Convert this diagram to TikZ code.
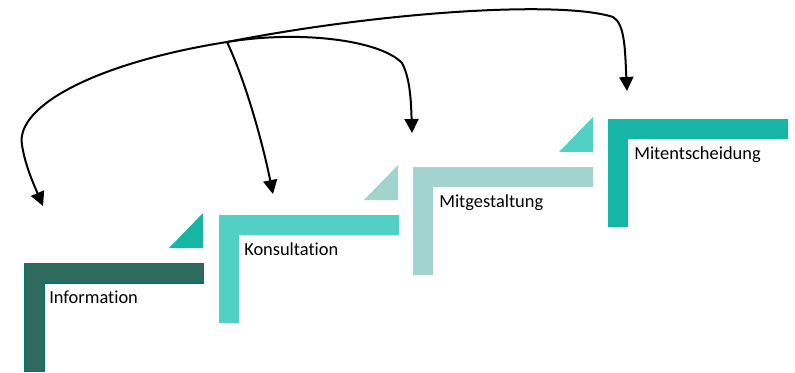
\documentclass[tikz,border=0pt]{standalone}
\usepackage{fontspec}
\setmainfont{Carlito}[Ligatures=NoCommon]
\usetikzlibrary{arrows.meta}
\definecolor{cone}{HTML}{2E6B5E}
\definecolor{coneb}{HTML}{00776A}
\definecolor{ctwo}{HTML}{52D0C3}
\definecolor{cthree}{HTML}{A3D3CE}
\definecolor{cfour}{HTML}{17B5A5}
\tikzset{
  lbl/.style={anchor=base west,inner sep=0pt,font=\fontsize{13.8pt}{15pt}\selectfont},
  conn/.style={line width=1.5pt,-{Triangle[length=10.5pt,width=10.5pt]}},
}
\newcommand{\stairL}[3]{%
  \fill[#3] (#1,#2) -- ++(180,0) -- ++(0,20) -- ++(-160,0) -- ++(0,88) -- ++(-20,0) -- cycle;}
\newcommand{\stairT}[3]{%
  \fill[#3] (#1,#2) -- ++(34,-35) -- ++(0,35) -- cycle;}
\begin{document}
\begin{tikzpicture}[x=0.75pt,y=-0.75pt]
\useasboundingbox (0,0) rectangle (795,372);
% steps
\filldraw[fill=cone,draw=coneb,line width=0.8pt] (24.5,263.5) -- ++(179,0) -- ++(0,19.5) -- ++(-159.5,0) -- ++(0,88.5) -- ++(-19.5,0) -- cycle;
\stairL{219}{215}{ctwo}
\stairL{413}{167}{cthree}
\stairL{608}{119}{cfour}
% triangles
\stairT{169}{248}{cfour}
\stairT{364}{200}{cthree}
\stairT{559}{152}{ctwo}
% labels
\node[lbl] (info) at (49,303) {Information};
\node[lbl] (kons) at (244,255) {Konsultation};
\node[lbl] (mitg) at (439,207) {Mitgestaltung};
\node[lbl] (mite) at (634,159) {Mitentscheidung};
% connectors
\coordinate (src) at (227,42);
\coordinate (t1) at (43,206);
\coordinate (t2) at (273,194);
\coordinate (t3) at (412,133);
\coordinate (t4) at (627,91);
\draw[conn] (src) .. controls (100,62) and (15,105) .. (22,145) .. controls (25,165) and (34,185) .. (t1);
\draw[conn] (src) .. controls (245,80) and (262,140) .. (t2);
\draw[conn] (src) .. controls (300,30) and (380,40) .. (402,63) .. controls (410,78) and (411,100) .. (t3);
\draw[conn] (src) .. controls (380,12) and (560,0) .. (613,17) .. controls (625,24) and (625,50) .. (t4);
\end{tikzpicture}
\end{document}
